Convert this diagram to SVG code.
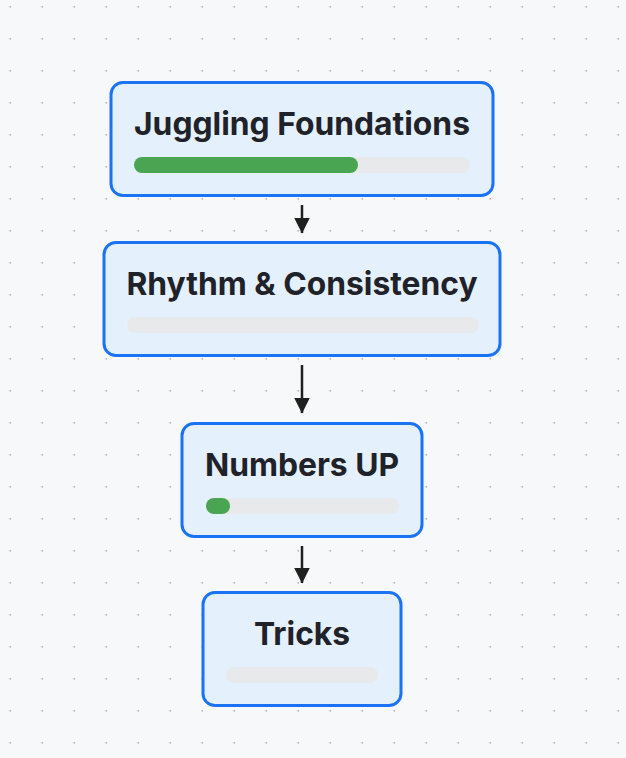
<svg xmlns="http://www.w3.org/2000/svg" width="626" height="758" viewBox="0 0 626 758">
<defs>
<pattern id="dots" x="0" y="0" width="32" height="32" patternUnits="userSpaceOnUse">
<rect x="9.5" y="6" width="1.6" height="1.6" fill="#b4b7bc"/>
</pattern>
<marker id="arrow" viewBox="0 0 16 16" refX="15.5" refY="8" markerWidth="16" markerHeight="16" markerUnits="userSpaceOnUse" orient="auto">
<path d="M0,0 L16,8 L0,16 Z" fill="#1f1f1f"/>
</marker>
</defs>
<style>
.node rect.box { fill: #e5f0fd; stroke: #1a73f5; stroke-width: 3; }
.node text { font-family: Inter, "Noto Sans", "Liberation Sans", sans-serif; font-weight: 700; font-size: 31.8px; fill: #1f2329; text-anchor: middle; }
.track { fill: #e8e9eb; }
.fill { fill: #4aa552; }
.edge { stroke: #1f1f1f; stroke-width: 2.5; fill: none; marker-end: url(#arrow); }
</style>
<rect width="626" height="758" fill="#f7f8fa"/>
<rect width="626" height="758" fill="url(#dots)"/>

<g id="connectors">
<line class="edge" x1="302" y1="205" x2="302" y2="233"/>
<line class="edge" x1="302" y1="365" x2="302" y2="413"/>
<line class="edge" x1="302" y1="546" x2="302" y2="583"/>
</g>

<g id="node-juggling-foundations" class="node">
<rect class="box" x="111" y="82.5" width="382" height="113" rx="12"/>
<text x="302" y="135">Juggling Foundations</text>
<rect class="track" x="134" y="157" width="336" height="16" rx="8"/>
<rect class="fill" x="134" y="157" width="224" height="16" rx="8"/>
</g>

<g id="node-rhythm-consistency" class="node">
<rect class="box" x="104" y="242.5" width="396" height="113" rx="12"/>
<text x="302" y="295">Rhythm &amp; Consistency</text>
<rect class="track" x="127" y="317" width="352" height="16" rx="8"/>
</g>

<g id="node-numbers-up" class="node">
<rect class="box" x="182" y="423.5" width="240" height="113" rx="12"/>
<text x="302" y="476">Numbers UP</text>
<rect class="track" x="206" y="498" width="193" height="16" rx="8"/>
<rect class="fill" x="206" y="498" width="24" height="16" rx="8"/>
</g>

<g id="node-tricks" class="node">
<rect class="box" x="203" y="592.5" width="198" height="113" rx="12"/>
<text x="302" y="645">Tricks</text>
<rect class="track" x="226" y="667" width="152" height="16" rx="8"/>
</g>
</svg>
